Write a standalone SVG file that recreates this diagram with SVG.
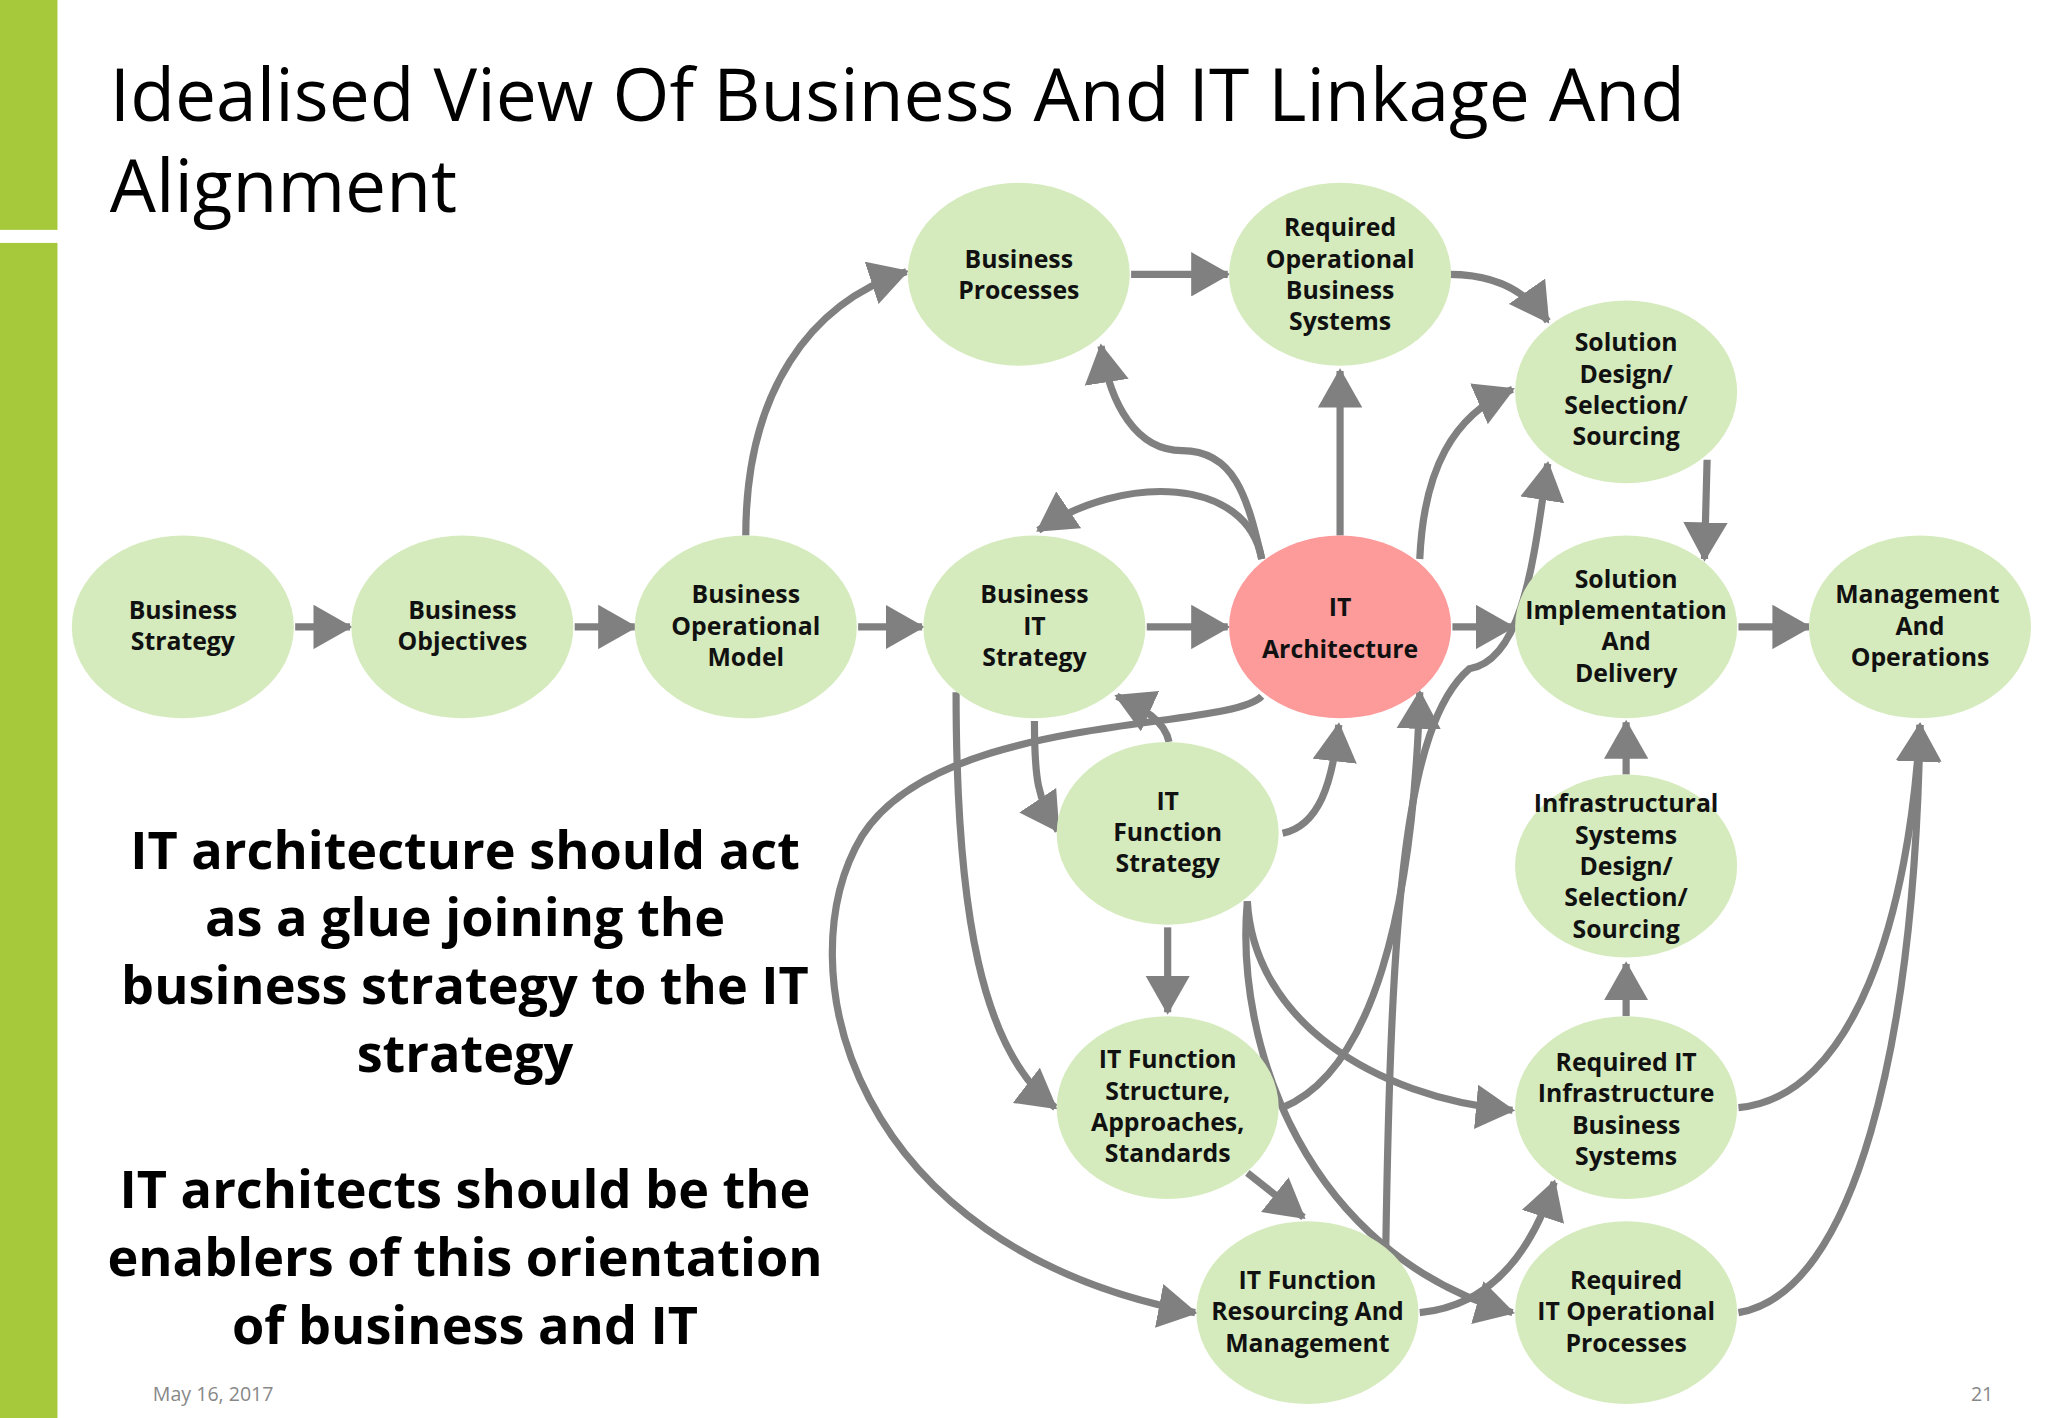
<svg xmlns="http://www.w3.org/2000/svg" width="2048" height="1418" viewBox="0 0 2048 1418">
<defs>
<style>
.n{fill:#d5ebbd}
.p{fill:#fd9a9a}
.t{font-family:"Open Sans","Liberation Sans",sans-serif;font-weight:bold;font-size:19px;fill:#111;text-anchor:middle}
.c path{fill:none;stroke:#808080;stroke-width:5.5;marker-end:url(#a)}
.b{font-family:"Open Sans","Liberation Sans",sans-serif;font-weight:bold;font-size:40px;fill:#000;text-anchor:middle}
</style>
<marker id="a" markerUnits="userSpaceOnUse" markerWidth="32" markerHeight="34" refX="28" refY="17" orient="auto" viewBox="0 0 32 34"><path d="M0,0 L30,17 L0,34 z" fill="#808080"/></marker>
</defs>
<rect width="2048" height="1418" fill="#fff"/>
<g transform="scale(1.30612)">
<rect x="0" y="0" width="44" height="176" fill="#a6c93b"/>
<rect x="0" y="186" width="44" height="900" fill="#a6c93b"/>
<text x="84" y="93" font-family="Open Sans,Liberation Sans,sans-serif" font-size="56" fill="#000" textLength="1206">Idealised View Of Business And IT Linkage And</text>
<text x="84" y="162" font-family="Open Sans,Liberation Sans,sans-serif" font-size="56" fill="#000">Alignment</text>
<g id="body">
<text class="b" x="356" y="665">IT architecture should act</text>
<text class="b" x="356" y="717">as a glue joining the</text>
<text class="b" x="356" y="769">business strategy to the IT</text>
<text class="b" x="356" y="821">strategy</text>
<text class="b" x="356" y="925">IT architects should be the</text>
<text class="b" x="356" y="977">enablers of this orientation</text>
<text class="b" x="356" y="1029">of business and IT</text>
</g>
<text x="117" y="1073" font-family="Open Sans,Liberation Sans,sans-serif" font-size="15" fill="#888">May 16, 2017</text>
<text x="1509" y="1073" font-family="Open Sans,Liberation Sans,sans-serif" font-size="15" fill="#888">21</text>

<g class="c" id="connectors">
<path d="M226,480 L268,480"/>
<path d="M440,480 L486,480"/>
<path d="M657,480 L706,480"/>
<path d="M878,480 L940,480"/>
<path d="M1112,480 L1158,480"/>
<path d="M1331,480 L1385,480"/>
<path d="M866,210 L940,210"/>
<path d="M1110,210 Q1160,210 1185,246"/>
<path d="M1307,352 L1305,428"/>
<path d="M1026,410 L1026,284"/>
<path d="M571,410 C571,300 620,232 694,208"/>
<path d="M966,428 C955,380 945,345 905,345 C870,345 850,310 843,265"/>
<path d="M966,428 C955,365 860,362 795,406"/>
<path d="M1087,428 C1090,360 1112,318 1158,298"/>
<path d="M1245,593 L1245,553"/>
<path d="M1245,778 L1245,738"/>
<path d="M792,552 C792,595 794,612 810,636"/>
<path d="M895,568 C892,552 875,542 855,533"/>
<path d="M982,638 C1010,632 1020,600 1025,555"/>
<path d="M894,710 L894,775"/>
<path d="M732,530 C732,700 752,805 808,848"/>
<path d="M982,848 C1050,820 1082,700 1087,530"/>
<path d="M1061,955 C1065,700 1075,555 1125,512 C1168,505 1175,420 1185,355"/>
<path d="M966,533 C940,560 720,545 660,640 C600,740 650,955 915,1005"/>
<path d="M955,898 L998,932"/>
<path d="M955,690 C960,780 1050,840 1158,850"/>
<path d="M955,690 C945,800 1000,960 1158,1005"/>
<path d="M1087,1005 C1140,1000 1172,960 1190,905"/>
<path d="M1331,848 C1420,840 1462,700 1470,555"/>
<path d="M1331,1005 C1420,990 1466,800 1470,555"/>
</g>

<g id="n1"><ellipse class="n" cx="140" cy="480" rx="85" ry="70"/><text class="t" x="140" y="474">Business</text><text class="t" x="140" y="498">Strategy</text></g>
<g id="n2"><ellipse class="n" cx="354" cy="480" rx="85" ry="70"/><text class="t" x="354" y="474">Business</text><text class="t" x="354" y="498">Objectives</text></g>
<g id="n3"><ellipse class="n" cx="571" cy="480" rx="85" ry="70"/><text class="t" x="571" y="462">Business</text><text class="t" x="571" y="486">Operational</text><text class="t" x="571" y="510">Model</text></g>
<g id="n4"><ellipse class="n" cx="792" cy="480" rx="85" ry="70"/><text class="t" x="792" y="462">Business</text><text class="t" x="792" y="486">IT</text><text class="t" x="792" y="510">Strategy</text></g>
<g id="n5"><ellipse class="p" cx="1026" cy="480" rx="85" ry="70"/><text class="t" x="1026" y="472" font-size="26">IT</text><text class="t" x="1026" y="504" font-size="26">Architecture</text></g>
<g id="n6"><ellipse class="n" cx="1245" cy="480" rx="85" ry="70"/><text class="t" x="1245" y="450">Solution</text><text class="t" x="1245" y="474">Implementation</text><text class="t" x="1245" y="498">And</text><text class="t" x="1245" y="522">Delivery</text></g>
<g id="n7"><ellipse class="n" cx="1470" cy="480" rx="85" ry="70"/><text class="t" x="1468" y="462">Management</text><text class="t" x="1470" y="486">And</text><text class="t" x="1470" y="510">Operations</text></g>
<g id="n8"><ellipse class="n" cx="780" cy="210" rx="85" ry="70"/><text class="t" x="780" y="205">Business</text><text class="t" x="780" y="229">Processes</text></g>
<g id="n9"><ellipse class="n" cx="1026" cy="210" rx="85" ry="70"/><text class="t" x="1026" y="181">Required</text><text class="t" x="1026" y="205">Operational</text><text class="t" x="1026" y="229">Business</text><text class="t" x="1026" y="253">Systems</text></g>
<g id="n10"><ellipse class="n" cx="1245" cy="300" rx="85" ry="70"/><text class="t" x="1245" y="269">Solution</text><text class="t" x="1245" y="293">Design/</text><text class="t" x="1245" y="317">Selection/</text><text class="t" x="1245" y="341">Sourcing</text></g>
<g id="n11"><ellipse class="n" cx="894" cy="638" rx="85" ry="70"/><text class="t" x="894" y="620">IT</text><text class="t" x="894" y="644">Function</text><text class="t" x="894" y="668">Strategy</text></g>
<g id="n12"><ellipse class="n" cx="1245" cy="663" rx="85" ry="70"/><text class="t" x="1245" y="622">Infrastructural</text><text class="t" x="1245" y="646">Systems</text><text class="t" x="1245" y="670">Design/</text><text class="t" x="1245" y="694">Selection/</text><text class="t" x="1245" y="718">Sourcing</text></g>
<g id="n13"><ellipse class="n" cx="894" cy="848" rx="85" ry="70"/><text class="t" x="894" y="818">IT Function</text><text class="t" x="894" y="842">Structure,</text><text class="t" x="894" y="866">Approaches,</text><text class="t" x="894" y="890">Standards</text></g>
<g id="n14"><ellipse class="n" cx="1245" cy="848" rx="85" ry="70"/><text class="t" x="1245" y="820">Required IT</text><text class="t" x="1245" y="844">Infrastructure</text><text class="t" x="1245" y="868">Business</text><text class="t" x="1245" y="892">Systems</text></g>
<g id="n15"><ellipse class="n" cx="1001" cy="1005" rx="85" ry="70"/><text class="t" x="1001" y="987">IT Function</text><text class="t" x="1001" y="1011">Resourcing And</text><text class="t" x="1001" y="1035">Management</text></g>
<g id="n16"><ellipse class="n" cx="1245" cy="1005" rx="85" ry="70"/><text class="t" x="1245" y="987">Required</text><text class="t" x="1245" y="1011">IT Operational</text><text class="t" x="1245" y="1035">Processes</text></g>
</g>
</svg>
